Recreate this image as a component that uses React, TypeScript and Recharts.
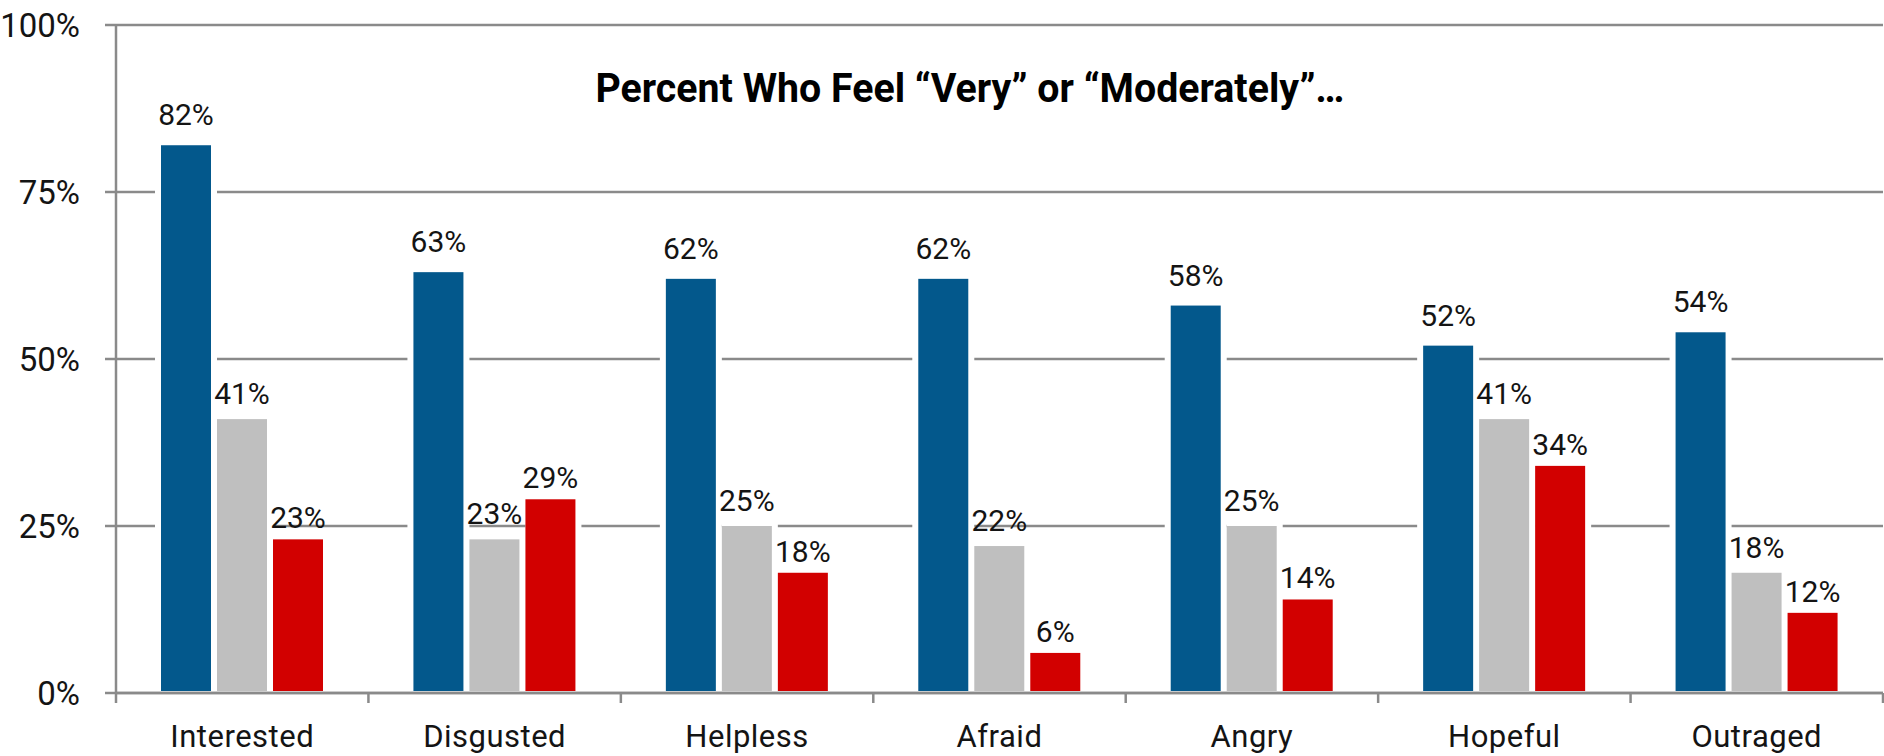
import { BarChart, Bar, XAxis, YAxis, CartesianGrid, LabelList } from 'recharts'

const emotions = ['Interested', 'Disgusted', 'Helpless', 'Afraid', 'Angry', 'Hopeful', 'Outraged']
const blueValues = [82, 63, 62, 62, 58, 52, 54]
const grayValues = [41, 23, 25, 22, 25, 41, 18]
const redValues = [23, 29, 18, 6, 14, 34, 12]
const yTicks = [0, 25, 50, 75, 100]

const data = emotions.map((name, i) => ({
  name,
  blue: blueValues[i],
  gray: grayValues[i],
  red: redValues[i],
}))

const FONT = 'Roboto, "Liberation Sans", sans-serif'
const LINE = '#8a8a8a'
const TEXT = '#141414'

// bar with a white halo so the gridlines stop short of it
function haloBar(padLeft: number) {
  return (props: any) => {
    const { x, y, width, height, fill } = props
    if (!height || height <= 0) return <g />
    const pad = 6
    return (
      <g>
        <rect x={x - padLeft} y={y - pad} width={width + padLeft + pad} height={height + pad - 2} fill="#fff" />
        <rect x={x} y={y} width={width} height={height - 2} fill={fill} />
      </g>
    )
  }
}

function CategoryTick(props: any) {
  const { x, y, payload, index } = props
  const half = payload?.offset || 126.2
  return (
    <g>
      <line x1={x - half} x2={x - half} y1={y} y2={y + 10} stroke={LINE} strokeWidth={2.5} />
      {index === emotions.length - 1 && (
        <line x1={x + half} x2={x + half} y1={y} y2={y + 10} stroke={LINE} strokeWidth={2.5} />
      )}
      <text x={x} y={y + 54} textAnchor="middle" fontSize={31} fontFamily={FONT} fill={TEXT} letterSpacing={0.5}>
        {payload.value}
      </text>
    </g>
  )
}

const pct = (v: any) => `${v}%`

export default function App() {
  return (
    <div style={{ position: 'relative', width: 1884, height: 756, background: '#fff' }}>
      <style>{'body{margin:0;background:#fff}'}</style>
      <BarChart
        width={1884}
        height={756}
        data={data}
        margin={{ top: 25, right: 1, left: 0, bottom: 0 }}
        barSize={50}
        barGap={6}
      >
        <CartesianGrid vertical={false} stroke={LINE} strokeWidth={2.5} />
        <YAxis
          domain={[0, 100]}
          ticks={yTicks}
          tickFormatter={pct}
          width={116}
          tickSize={11}
          tickMargin={25}
          interval={0}
          axisLine={{ stroke: LINE, strokeWidth: 2.5 }}
          tickLine={{ stroke: LINE, strokeWidth: 2.5 }}
          tick={{ fontSize: 33, fontFamily: FONT, fill: TEXT }}
        />
        <Bar dataKey="blue" fill="#03588c" shape={haloBar(6)} isAnimationActive={false}>
          <LabelList dataKey="blue" position="top" offset={20} formatter={pct} fontSize={30} fontFamily={FONT} fill={TEXT} />
        </Bar>
        <Bar dataKey="gray" fill="#bfbfbf" shape={haloBar(0)} isAnimationActive={false}>
          <LabelList dataKey="gray" position="top" offset={15} formatter={pct} fontSize={30} fontFamily={FONT} fill={TEXT} />
        </Bar>
        <Bar dataKey="red" fill="#d20000" shape={haloBar(0)} isAnimationActive={false}>
          <LabelList dataKey="red" position="top" offset={11} formatter={pct} fontSize={30} fontFamily={FONT} fill={TEXT} />
        </Bar>
        <XAxis
          dataKey="name"
          height={63}
          tickSize={0}
          tickMargin={0}
          interval={0}
          axisLine={{ stroke: LINE, strokeWidth: 2.5 }}
          tickLine={false}
          tick={<CategoryTick />}
        />
      </BarChart>
      <svg width={1884} height={130} style={{ position: 'absolute', left: 0, top: 0, pointerEvents: 'none' }}>
        <text
          x={970}
          y={102}
          textAnchor="middle"
          fontSize={40}
          fontWeight={700}
          fontFamily={FONT}
          fill="#000"
          textLength={749}
          lengthAdjust="spacingAndGlyphs"
        >
          Percent Who Feel “Very” or “Moderately”…
        </text>
      </svg>
    </div>
  )
}
